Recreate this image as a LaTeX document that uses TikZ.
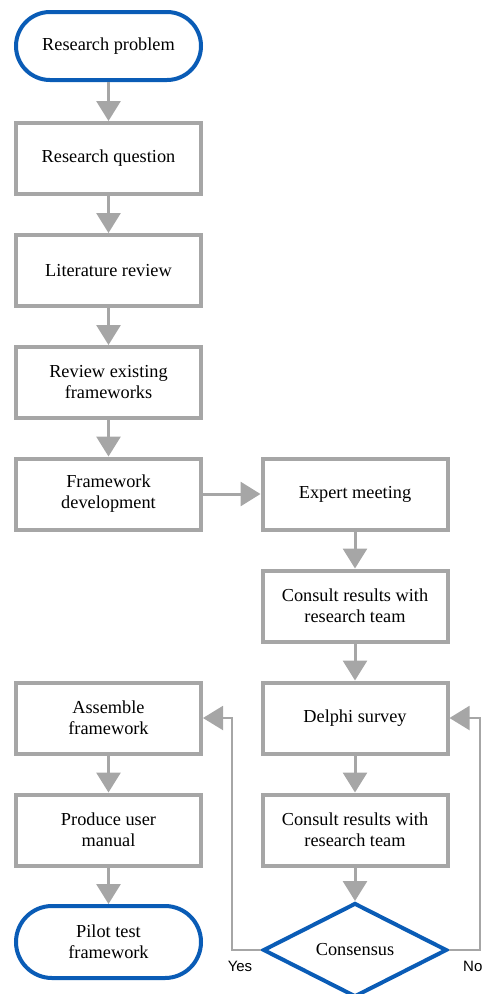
\documentclass[tikz,border=0pt]{standalone}
\usepackage{fontspec}
\setmainfont{Liberation Serif}
\newfontfamily\labelfont{Liberation Sans}
\usetikzlibrary{shapes.geometric,arrows.meta}
\definecolor{flowgray}{RGB}{166,166,166}
\definecolor{flowblue}{RGB}{10,92,182}
\tikzset{
  stepbox/.style={draw=flowgray, line width=4pt, fill=white, minimum width=185pt,
    minimum height=71pt, align=center, inner sep=0pt,
    font=\fontsize{18.3}{21}\selectfont},
  terminal/.style={stepbox, draw=flowblue},
  decision/.style={diamond, draw=flowblue, line width=4pt, fill=white,
    minimum width=184pt, minimum height=94pt, inner sep=0pt,
    font=\fontsize{18.3}{21}\selectfont},
  flow/.style={draw=flowgray, line width=3pt, -{Triangle[width=24pt,length=20pt]}},
  backline/.style={draw=flowgray, line width=2pt, -{Triangle[width=24pt,length=20pt]}},
  answer/.style={font=\labelfont\fontsize{15}{18}\selectfont, inner sep=0pt}
}
\begin{document}
\begin{tikzpicture}[x=1pt,y=-1pt]
  \useasboundingbox (0,0) rectangle (484,994);

  % left column
  \node[terminal, minimum height=68pt, rounded corners=34pt] (rp) at (108.5,46) {Research problem};
  \node[stepbox] (rq) at (108.5,158.5) {Research question};
  \node[stepbox] (lr) at (108.5,270.5) {Literature review};
  \node[stepbox] (rf) at (108.5,382.5) {Review existing\\frameworks};
  \node[stepbox] (fd) at (108.5,494) {Framework\\development};

  % right column
  \node[stepbox] (em) at (355,494) {Expert meeting};
  \node[stepbox] (c1) at (355,606) {Consult results with\\research team};
  \node[stepbox] (ds) at (355,718) {Delphi survey};
  \node[stepbox] (c2) at (355,830) {Consult results with\\research team};
  \node[decision] (cons) at (355,950) {Consensus};

  % final steps
  \node[stepbox] (af) at (108.5,718) {Assemble\\framework};
  \node[stepbox] (pum) at (108.5,830) {Produce user\\manual};
  \node[terminal, minimum height=72pt, rounded corners=36pt] (pt) at (108.5,942) {Pilot test\\framework};

  % main flow
  \draw[flow] (rp) -- (rq);
  \draw[flow] (rq) -- (lr);
  \draw[flow] (lr) -- (rf);
  \draw[flow] (rf) -- (fd);
  \draw[flow] (fd) -- (em);
  \draw[flow] (em) -- (c1);
  \draw[flow] (c1) -- (ds);
  \draw[flow] (ds) -- (c2);
  \draw[flow] (c2) -- (cons);
  \draw[flow] (af) -- (pum);
  \draw[flow] (pum) -- (pt);

  % decision branches
  \draw[backline] (cons.west) -- ++(-29,0) |- (af.east);
  \draw[backline] (cons.east) -- ++(31,0) |- (ds.east);
  \node[answer] (yes) at (240,966) {Yes};
  \node[answer, anchor=west] (no) at (463,966) {No};
\end{tikzpicture}
\end{document}
